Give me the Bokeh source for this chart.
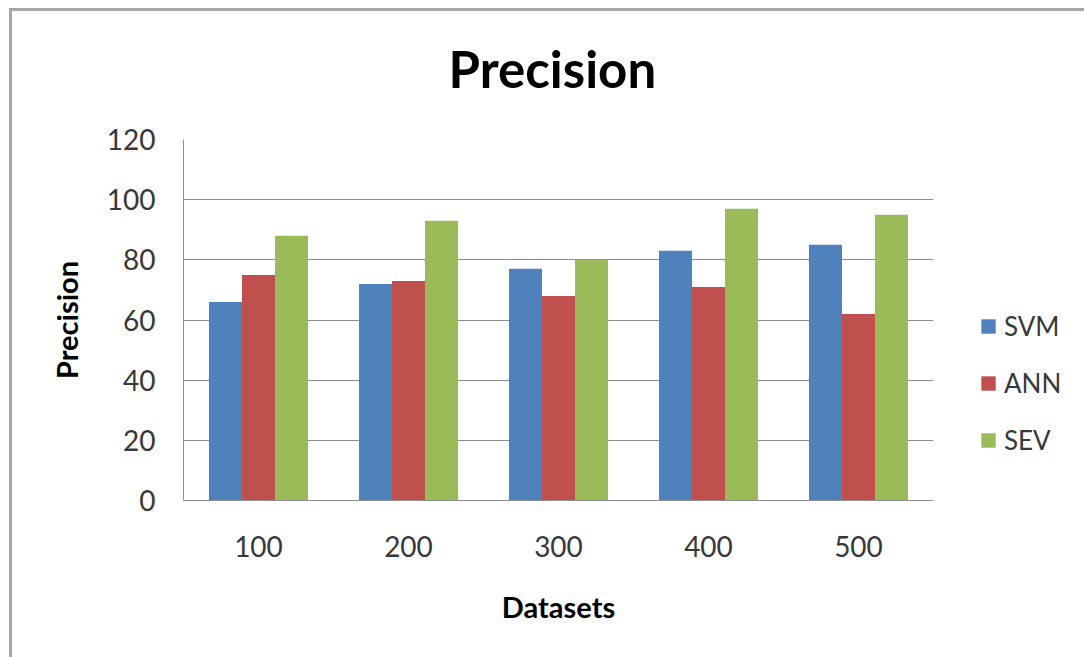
from bokeh.plotting import figure
from bokeh.models import FactorRange, Legend, LegendItem, SingleIntervalTicker, ColumnDataSource, Title
from bokeh.transform import dodge
from bokeh.layouts import row
from bokeh.embed import file_html
from bokeh.resources import INLINE

categories = ["100", "200", "300", "400", "500"]
svm = [66, 72, 77, 83, 85]
ann = [75, 73, 68, 71, 62]
sev = [88, 93, 80, 97, 95]
series_names = ["SVM", "ANN", "SEV"]
colors = ["#4F81BD", "#C0504D", "#9BBB59"]

FONT = "Lato"

source = ColumnDataSource(data=dict(cat=categories, SVM=svm, ANN=ann, SEV=sev))

p = figure(x_range=FactorRange(*categories), y_range=(0, 120),
           width=931, height=646, output_backend="svg", toolbar_location=None,
           min_border_left=171, min_border_right=10, min_border_top=128, min_border_bottom=157)

bw = 0.22
for i, (name, col) in enumerate(zip(series_names, colors)):
    p.vbar(x=dodge("cat", (i - 1) * bw, range=p.x_range), top=name, width=bw,
           source=source, fill_color=col, line_color=None)

# spacer between frame and title (closest to frame), then the title itself
p.add_layout(Title(text=" ", text_font_size="1px", standoff=33), "above")
p.add_layout(Title(text="Precision", align="left", offset=265, standoff=10,
                   text_font=FONT, text_font_size="51px", text_font_style="bold",
                   text_color="#000000"), "above")

p.outline_line_color = None
p.background_fill_color = "white"
p.border_fill_color = "white"

p.xgrid.grid_line_color = None
p.ygrid.grid_line_color = "#8c8c8c"
p.ygrid.grid_line_width = 1

p.yaxis.ticker = SingleIntervalTicker(interval=20)
for ax in (p.xaxis[0], p.yaxis[0]):
    ax.axis_line_color = "#8c8c8c"
    ax.major_tick_line_color = None
    ax.minor_tick_line_color = None
    ax.major_tick_in = 0
    ax.major_tick_out = 0
    ax.minor_tick_in = 0
    ax.minor_tick_out = 0
    ax.major_label_text_font = FONT
    ax.major_label_text_font_size = "28px"
    ax.major_label_text_color = "#383838"
    ax.axis_label_text_font = FONT
    ax.axis_label_text_font_size = "29px"
    ax.axis_label_text_font_style = "bold"
    ax.axis_label_text_color = "#000000"

p.xaxis.axis_label = "Datasets"
p.yaxis.axis_label = "Precision"
p.xaxis.major_label_standoff = 35
p.xaxis.axis_label_standoff = 29
p.yaxis.major_label_standoff = 28
p.yaxis.axis_label_standoff = 20

# legend panel (its frame is aligned with the main frame by the row layout)
lp = figure(width=141, height=646, output_backend="svg", toolbar_location=None,
            x_range=FactorRange(*categories), y_range=(0, 1), min_border=0,
            x_axis_location=None, y_axis_location=None)
lp.outline_line_color = None
lp.grid.grid_line_color = None
lp.background_fill_color = "white"
lp.border_fill_color = "white"
legend_renderers = []
for name, col in zip(series_names, colors):
    # zero-size bars: only their legend swatch shows
    legend_renderers.append(lp.vbar(x="cat", bottom=name, top=name, width=0, source=source,
                                    fill_color=col, line_color=None))

legend = Legend(items=[LegendItem(label=n, renderers=[r]) for n, r in zip(series_names, legend_renderers)],
                location=(36, 44), padding=0, margin=0, border_line_color=None,
                background_fill_alpha=0, glyph_width=18, glyph_height=18, label_standoff=7,
                spacing=25, label_text_font=FONT, label_text_font_size="26px",
                label_text_color="#383838")
lp.add_layout(legend, "center")

layout = row(p, lp)
layout.margin = (8, 0, 0, 9)
layout.styles = {"border-left": "3px solid #a6a6a6", "border-top": "3px solid #a6a6a6"}

open("out.html", "w").write(file_html(layout, INLINE))
